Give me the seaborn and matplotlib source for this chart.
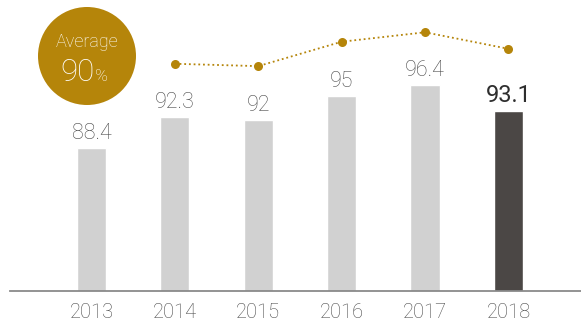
import matplotlib
matplotlib.use("Agg")
import matplotlib.pyplot as plt
from matplotlib.patches import Circle
import seaborn as sns
import pandas as pd

# Annual scores (bars) and the companion trend series (dotted line)
years = ["2013", "2014", "2015", "2016", "2017", "2018"]
scores = [88.4, 92.3, 92.0, 95.0, 96.4, 93.1]
score_labels = ["88.4", "92.3", "92", "95", "96.4", "93.1"]
trend_years = ["2014", "2015", "2016", "2017", "2018"]
trend_values = [99.1, 98.8, 101.9, 103.1, 101.0]
average_label = "Average"
average_value = "90"

GOLD = "#b5850a"
LIGHT = "#d1d1d1"
DARK = "#4b4745"
TEXT = "#4a4a4a"
FONT = ["Roboto", "DejaVu Sans"]

sns.set_theme(style="white")
plt.rcParams["font.family"] = FONT

fig = plt.figure(figsize=(5.81, 3.24), dpi=100)
ax = fig.add_axes([10 / 581, 33 / 324, 571 / 581, 291 / 324])

df = pd.DataFrame({"year": years, "score": scores})
palette = {y: (DARK if y == years[-1] else LIGHT) for y in years}
sns.barplot(data=df, x="year", y="score", hue="year", palette=palette,
            width=0.35, saturation=1, legend=False, ax=ax)

# dotted trend line with gold markers
pos = [years.index(y) for y in trend_years]
sns.lineplot(x=pos, y=trend_values, ax=ax, color=GOLD, linestyle=(0, (1, 1.6)),
             linewidth=1.3, marker="o", markersize=6.5, markeredgewidth=0,
             markerfacecolor=GOLD, alpha=1)

ax.set_xlim(-0.977, 5.87)
ax.set_ylim(70.24, 107.2)

# value labels above each bar; the latest year is emphasised
for i, (v, lab) in enumerate(zip(scores, score_labels)):
    last = i == len(scores) - 1
    ax.annotate(lab, (i, v), xytext=(0, 6.5), textcoords="offset points",
                ha="center", va="baseline",
                fontweight="normal" if last else "light",
                fontsize=17 if last else 15.5,
                color="#2e2e2e" if last else TEXT)

for s in ["top", "left", "right"]:
    ax.spines[s].set_visible(False)
ax.spines["bottom"].set_color("#8a8a8a")
ax.spines["bottom"].set_linewidth(1.3)
ax.set_yticks([])
ax.set_xlabel("")
ax.set_ylabel("")
ax.tick_params(axis="x", length=0, pad=9, labelsize=14.5, labelcolor=TEXT)
for t in ax.get_xticklabels():
    t.set_fontweight("light")

# average badge
tr = fig.dpi_scale_trans
fig.patches.append(Circle((0.87, 2.68), 0.49, transform=tr, facecolor=GOLD,
                          edgecolor="none", zorder=5))
fig.text(0.87, 2.82, average_label, transform=tr, ha="center", va="center",
         color="white", fontsize=13, fontweight="light", zorder=6)
fig.text(0.945, 2.43, average_value, transform=tr, ha="right", va="baseline",
         color="white", fontsize=22.5, fontweight="light", zorder=6)
fig.text(0.948, 2.43, "%", transform=tr, ha="left", va="baseline",
         color="white", fontsize=12.5, fontweight="light", zorder=6)

fig.savefig("out.png", dpi=100)
